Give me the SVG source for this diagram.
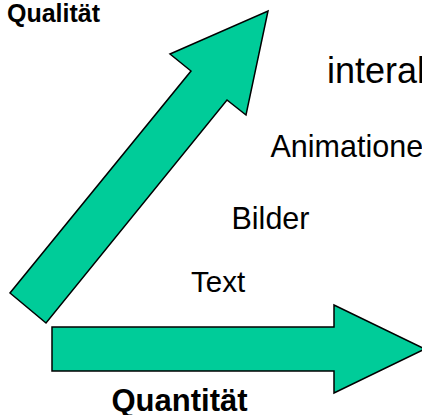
<svg xmlns="http://www.w3.org/2000/svg" width="422" height="415" viewBox="0 0 422 415">
  <style>
    .arrow { fill: #00CC99; stroke: #000000; stroke-width: 1.5; stroke-linejoin: miter; }
    .lbl { font-family: "Liberation Sans", Arial, sans-serif; fill: #000000; }
    .bold { font-weight: bold; }
  </style>
  <rect width="422" height="415" fill="#FFFFFF"/>
  <g id="arrow-qualitaet">
    <polygon class="arrow" points="10,293 46,323 227,100 246,115 268,11 170,54 191,71"/>
  </g>
  <g id="arrow-quantitaet">
    <polygon class="arrow" points="52,327 334,327 334,305 425,349 334,393 334,371 52,371"/>
  </g>
  <g id="axis-labels">
    <text class="lbl bold" x="7" y="21.5" font-size="25">Qualität</text>
    <text class="lbl bold" x="111.5" y="411" font-size="31">Quantität</text>
  </g>
  <g id="levels">
    <text class="lbl" x="327" y="83" font-size="36">interak</text>
    <text class="lbl" x="270.5" y="156.5" font-size="30.5">Animationen</text>
    <text class="lbl" x="231.5" y="228.5" font-size="30.5">Bilder</text>
    <text class="lbl" x="191" y="292" font-size="29.5">Text</text>
  </g>
</svg>
